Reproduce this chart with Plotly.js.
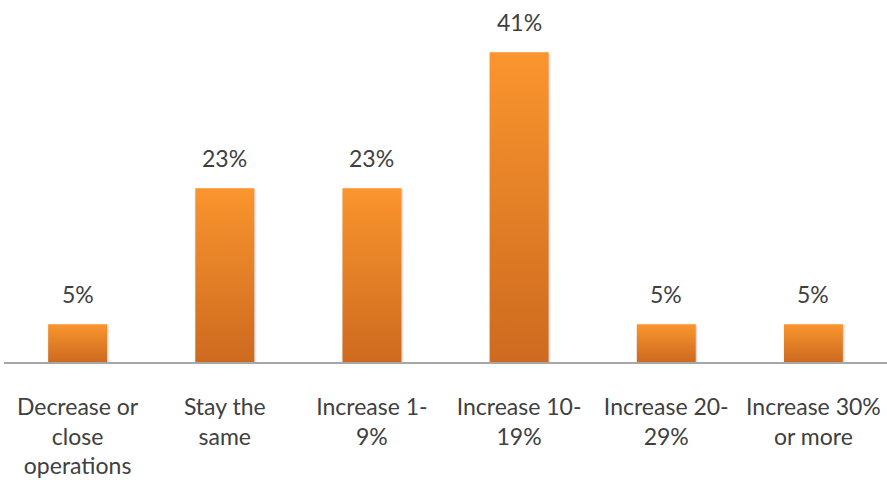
<!DOCTYPE html>
<html>
<head>
<meta charset="utf-8">
<script src="https://cdn.plot.ly/plotly-3.0.1.min.js"></script>
<style>
html,body{margin:0;padding:0;background:#fff;}
#chart{width:887px;height:482px;}
</style>
</head>
<body>
<div id="chart"></div>
<script>
const categories = ["Decrease or<br>close<br>operations", "Stay the<br>same", "Increase 1-<br>9%", "Increase 10-<br>19%", "Increase 20-<br>29%", "Increase 30%<br>or more"];
const values = [5, 23, 23, 41, 5, 5];
const labels = ["5%", "23%", "23%", "41%", "5%", "5%"];

const font = "Lato, 'Open Sans', sans-serif";
const trace = {
  type: "bar",
  x: categories,
  y: values,
  marker: {color: "#E8832A", line: {width: 0}},
  hoverinfo: "none"
};

const annotations = categories.map((c, i) => ({
  x: c, y: values[i], text: labels[i], showarrow: false,
  yanchor: "bottom", yshift: 14,
  font: {family: font, size: 23, color: "#404040"}
}));

const layout = {
  width: 887, height: 482,
  margin: {l: 4, r: 0, t: 22, b: 120},
  paper_bgcolor: "#fff", plot_bgcolor: "#fff",
  bargap: 0.6,
  showlegend: false,
  xaxis: {
    showline: true, linecolor: "#A6A6A6", linewidth: 2,
    ticks: "", showgrid: false, zeroline: false,
    tickfont: {family: font, size: 23, color: "#404040"},
    ticklabelstandoff: 23
  },
  yaxis: {
    range: [0, 45], visible: false, showgrid: false, zeroline: false
  },
  annotations: annotations
};

function applyGradient(gd) {
  const svg = gd.querySelector("svg.main-svg");
  if (!svg) return;
  let defs = svg.querySelector("defs");
  if (!defs) { defs = document.createElementNS("http://www.w3.org/2000/svg", "defs"); svg.insertBefore(defs, svg.firstChild); }
  if (!svg.querySelector("#barGrad")) {
    const g = document.createElementNS("http://www.w3.org/2000/svg", "linearGradient");
    g.setAttribute("id", "barGrad");
    g.setAttribute("x1", "0"); g.setAttribute("y1", "0");
    g.setAttribute("x2", "0"); g.setAttribute("y2", "1");
    const s1 = document.createElementNS("http://www.w3.org/2000/svg", "stop");
    s1.setAttribute("offset", "0"); s1.setAttribute("stop-color", "#FA952E");
    const s2 = document.createElementNS("http://www.w3.org/2000/svg", "stop");
    s2.setAttribute("offset", "1"); s2.setAttribute("stop-color", "#CD6A1F");
    g.appendChild(s1); g.appendChild(s2);
    defs.appendChild(g);
  }
  gd.querySelectorAll(".bars .point path").forEach(p => {
    p.style.fill = "url(#barGrad)";
    p.style.filter = "drop-shadow(1px 1px 1px rgba(0,0,0,0.25))";
  });
}

Plotly.newPlot("chart", [trace], layout, {displayModeBar: false, staticPlot: true}).then(gd => {
  applyGradient(gd);
  gd.on("plotly_afterplot", () => applyGradient(gd));
});
</script>
</body>
</html>
